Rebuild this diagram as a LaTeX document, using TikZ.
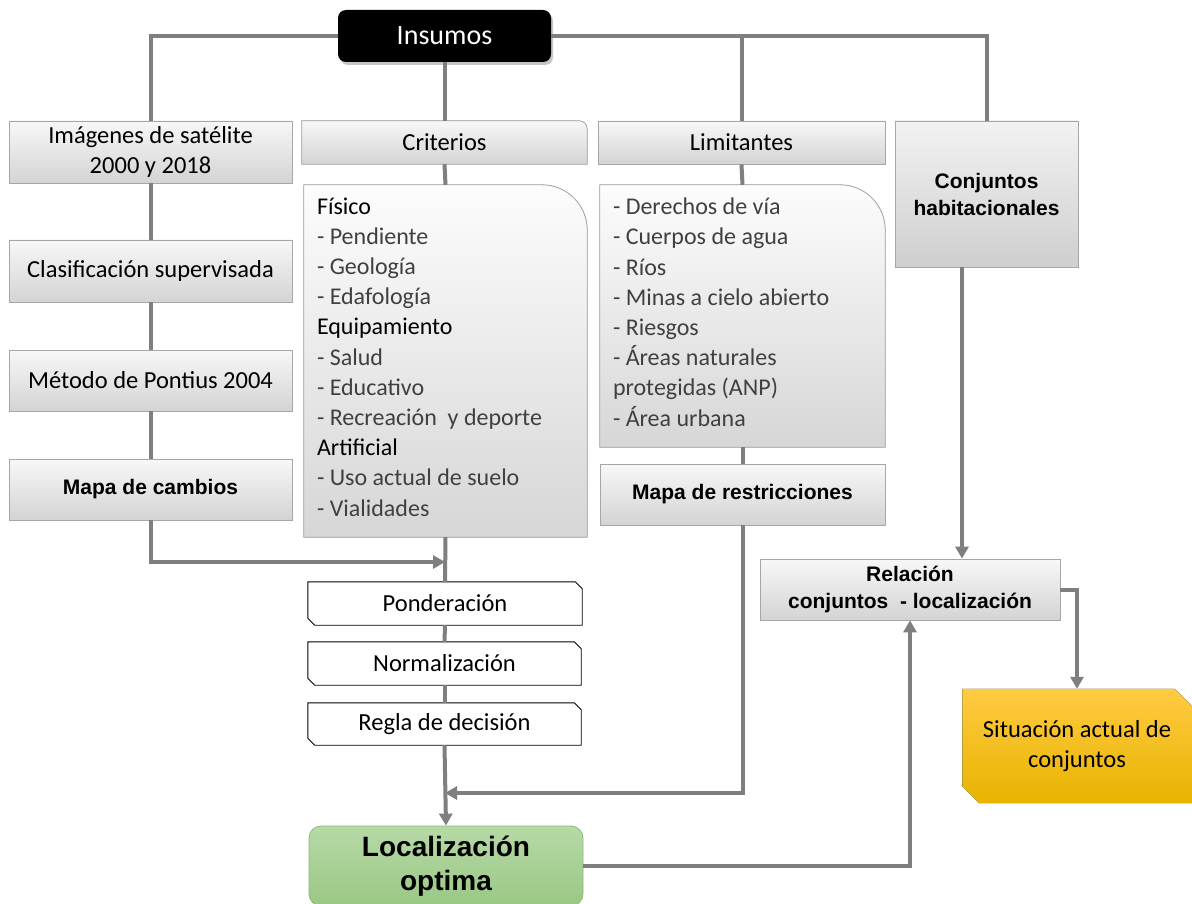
\documentclass[tikz,border=0pt]{standalone}
\usepackage{fontspec}
\setmainfont{Carlito}
\newfontfamily\arialfont{Liberation Sans}
\usetikzlibrary{arrows.meta,shadows,backgrounds,calc}

\definecolor{linegray}{HTML}{7F7F7F}
\definecolor{boxline}{HTML}{A6A6A6}
\definecolor{greentop}{HTML}{B7D9A7}
\definecolor{greenbot}{HTML}{99C885}
\definecolor{greenline}{HTML}{8CBB78}
\definecolor{yellowtop}{HTML}{FFCB42}
\definecolor{yellowbot}{HTML}{E8B300}

%box with snipped corners (north east, south west)
\newcommand{\cutbox}[3][]{\filldraw[#1] (#2.north west) -- ($(#2.north east)+(-#3,0)$) -- ($(#2.north east)+(0,#3)$) -- (#2.south east) -- ($(#2.south west)+(#3,0)$) -- ($(#2.south west)+(0,-#3)$) -- cycle;}
%box with one round corner (north east)
\newcommand{\roundbox}[3][]{\filldraw[#1] (#2.south west) -- (#2.north west) -- ($(#2.north east)+(-#3,0)$) .. controls ($(#2.north east)+(-0.45*#3,0)$) and ($(#2.north east)+(0,0.45*#3)$) .. ($(#2.north east)+(0,#3)$) -- (#2.south east) -- cycle;}

\begin{document}
\begin{tikzpicture}
[x=1pt,y=-1pt,
conn/.style={draw=linegray,line width=4pt},
arr/.style={conn,-{Triangle[length=12pt,width=13pt]}},
gbox/.style={draw=boxline,line width=0.8pt,top color=black!3,bottom color=black!17,inner sep=2pt,align=center,font=\fontsize{24.5}{30}\selectfont},
bbox/.style={gbox,font=\arialfont\bfseries\fontsize{21}{27}\selectfont},
plain/.style={inner sep=0pt,align=center,font=\fontsize{24.5}{30}\selectfont},
listtext/.style={inner sep=0pt,align=left,text=black!75,font=\fontsize{24}{30.2}\selectfont},
]

\useasboundingbox (0,0) rectangle (1192,904);
\begin{scope}[on background layer]
\fill[white] (0,0) rectangle (1192,904);
\end{scope}

%Insumos
\node (ins) at (444.5,36) [fill=black,rounded corners=8pt,minimum width=213pt,minimum height=52pt,text=white,font=\fontsize{28}{32}\selectfont,drop shadow={opacity=.45,shadow xshift=2pt,shadow yshift=-3pt}] {Insumos};

%Left column
\node (img) at (150.5,152) [gbox,minimum width=283pt,minimum height=62pt] {Imágenes de satélite\\2000 y 2018};
\node (clas) at (150.5,271) [gbox,minimum width=283pt,minimum height=62pt] {Clasificación supervisada};
\node (pont) at (150.5,380.5) [gbox,minimum width=283pt,minimum height=61pt] {Método de Pontius 2004};
\node (camb) at (150.5,489.5) [bbox,minimum width=283pt,minimum height=61pt] {Mapa de cambios};

%Criterios
\node (crit) at (444.5,142.5) [plain,minimum width=285pt,minimum height=43pt] {Criterios};
\node (critl) at (445.5,361) [plain,minimum width=283pt,minimum height=352pt] {};
\node (critt) [listtext,anchor=north west] at ($(critl.north west)+(13,12.5)$) {\textcolor{black}{Físico}\\- Pendiente\\- Geología\\- Edafología\\\textcolor{black}{Equipamiento}\\- Salud\\- Educativo\\- Recreación~ y deporte\\\textcolor{black}{Artificial}\\- Uso actual de suelo\\- Vialidades};

\node (pond) at (445,603.5) [plain,minimum width=274pt,minimum height=43pt] {Ponderación};
\node (norm) at (444.5,663.5) [plain,minimum width=273pt,minimum height=43pt] {Normalización};
\node (regla) at (444.5,724) [plain,minimum width=273pt,minimum height=42pt] {Regla de decisión};

\node (loc) at (446,866) [draw=greenline,line width=0.8pt,rounded corners=12pt,top color=greentop,bottom color=greenbot,minimum width=274pt,minimum height=80pt,align=center,font=\arialfont\bfseries\fontsize{28}{34}\selectfont] {Localización\\optima};

%Limitantes
\node (lim) at (741.5,142.5) [gbox,minimum width=287pt,minimum height=43pt] {Limitantes};
\node (liml) at (742.5,316) [plain,minimum width=285pt,minimum height=262pt] {};
\node (limt) [listtext,anchor=north west] at ($(liml.north west)+(13,13)$) {- Derechos de vía\\- Cuerpos de agua\\- Ríos\\- Minas a cielo abierto\\- Riesgos\\- Áreas naturales\\protegidas (ANP)\\- Área urbana};
\node (restr) at (742.5,494.5) [bbox,minimum width=285pt,minimum height=61pt] {Mapa de restricciones};

%Conjuntos
\node (conj) at (986.5,194) [bbox,top color=black!5,bottom color=black!19,minimum width=183pt,minimum height=146pt] {Conjuntos\\habitacionales};
\node (rel) at (910,589.5) [bbox,minimum width=300pt,minimum height=61pt] {Relación\\conjuntos~ - localización};
\node (sit) at (1077,746) [plain,minimum width=229pt,minimum height=114pt] {Situación actual de\\conjuntos};

%Shapes behind the text nodes
\begin{scope}[on background layer]
\roundbox[draw=boxline,line width=0.8pt,top color=black!3,bottom color=black!17]{crit}{8}
\roundbox[draw=boxline,line width=0.8pt,top color=black!1,bottom color=black!16]{critl}{45}
\roundbox[draw=boxline,line width=0.8pt,top color=black!1,bottom color=black!16]{liml}{45}
\cutbox[draw=black,line width=0.9pt,fill=white]{pond}{7}
\cutbox[draw=black,line width=0.9pt,fill=white]{norm}{7}
\cutbox[draw=black,line width=0.9pt,fill=white]{regla}{7}
\cutbox[draw=none,top color=yellowtop,bottom color=yellowbot]{sit}{17}
\end{scope}

%Joining points
\coordinate (join1) at (445,562);
\coordinate (join2) at (445,793);

%Connectors
\draw[conn] (ins.west) -| (img.north);
\draw[conn] (ins.east) -| (conj.north);
\draw[conn] (ins.south) -- (crit.north);
\draw[conn] (ins.east -| lim.north) -- (lim.north);
\draw[conn] (img.south) -- (clas.north);
\draw[conn] (clas.south) -- (pont.north);
\draw[conn] (pont.south) -- (camb.north);
\draw[arr] (camb.south) |- (join1);
\draw[conn] (crit.south) -- (critl.north);
\draw[conn] (critl.south) -- (pond.north);
\draw[conn] (pond.south) -- (norm.north);
\draw[conn] (norm.south) -- (regla.north);
\draw[arr] (regla.south) -- (loc.north);
\draw[conn] (lim.south) -- (liml.north);
\draw[conn] (liml.south) -- (restr.north);
\draw[arr] (restr.south) |- (join2);
\draw[arr] ([xshift=-24.5pt]conj.south) -- ([xshift=-24.5pt]conj.south |- rel.north);
\draw[arr] (rel.east) -| (sit.north);
\draw[arr] (loc.east) -| (rel.south);

\end{tikzpicture}
\end{document}
